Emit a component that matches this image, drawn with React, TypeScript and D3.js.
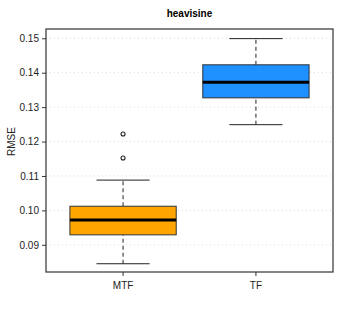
import React, { useRef, useEffect } from "react";
import * as d3 from "d3";

const categories = ["MTF", "TF"];
const colors = ["#FFA500", "#1E90FF"];
// [lower whisker, Q1, median, Q3, upper whisker]
const stats = [
  [0.0845, 0.0929, 0.0972, 0.1012, 0.1088],
  [0.1249, 0.1327, 0.1372, 0.1423, 0.1499],
];
const outliers = [[0.1222, 0.1152], []];
const yTicks = [0.09, 0.1, 0.11, 0.12, 0.13, 0.14, 0.15];

const App = () => {
  const svgRef = useRef<SVGSVGElement>(null);

  useEffect(() => {
    const width = 347;
    const height = 316;
    const m = { left: 46, right: 14, top: 29, bottom: 44 };
    const svg = d3.select(svgRef.current);
    svg.selectAll("*").remove();
    svg.attr("width", width).attr("height", height);
    const font = "Liberation Sans, Arial, sans-serif";

    const y = d3
      .scaleLinear()
      .domain([0.0821, 0.1527])
      .range([height - m.bottom, m.top]);
    const x = d3
      .scaleBand()
      .domain(categories)
      .range([m.left, width - m.right])
      .paddingInner(0.2)
      .paddingOuter(0.18);

    svg
      .append("text")
      .attr("x", (m.left + width - m.right) / 2)
      .attr("y", 17)
      .attr("text-anchor", "middle")
      .style("font-family", font)
      .style("font-weight", "bold")
      .style("font-size", "10px")
      .text("heavisine");

    // grid
    svg
      .append("g")
      .selectAll("line")
      .data(yTicks)
      .enter()
      .append("line")
      .attr("x1", m.left)
      .attr("x2", width - m.right)
      .attr("y1", (d) => y(d))
      .attr("y2", (d) => y(d))
      .attr("stroke", "#d8d8d8")
      .attr("stroke-dasharray", "1,3");

    // y axis
    const yAxis = svg
      .append("g")
      .attr("transform", `translate(${m.left},0)`)
      .call(
        d3
          .axisLeft(y)
          .tickValues(yTicks)
          .tickSize(4)
          .tickPadding(3)
          .tickFormat(d3.format(".2f"))
      );
    yAxis.select(".domain").remove();
    yAxis.selectAll("line").attr("stroke", "#333");
    yAxis
      .selectAll("text")
      .style("font-family", font)
      .style("font-size", "10px")
      .attr("fill", "#222");

    const xAxis = svg
      .append("g")
      .attr("transform", `translate(0,${height - m.bottom})`)
      .call(d3.axisBottom(x).tickSize(4).tickPadding(6));
    xAxis.select(".domain").remove();
    xAxis.selectAll("line").attr("stroke", "#333");
    xAxis
      .selectAll("text")
      .style("font-family", font)
      .style("font-size", "10px")
      .attr("fill", "#222");

    svg
      .append("text")
      .attr("transform", `translate(15,${y(0.12)}) rotate(-90)`)
      .attr("text-anchor", "middle")
      .style("font-family", font)
      .style("font-size", "10px")
      .attr("fill", "#222")
      .text("RMSE");

    const boxes = svg
      .append("g")
      .selectAll("g")
      .data(stats)
      .enter()
      .append("g");

    const bw = x.bandwidth();
    const cx = (i: number) => (x(categories[i]) as number) + bw / 2;

    // whiskers
    boxes
      .append("line")
      .attr("x1", (d, i) => cx(i))
      .attr("x2", (d, i) => cx(i))
      .attr("y1", (d) => y(d[0]))
      .attr("y2", (d) => y(d[1]))
      .attr("stroke", "#222")
      .attr("stroke-width", 1)
      .attr("stroke-dasharray", "4,3");
    boxes
      .append("line")
      .attr("x1", (d, i) => cx(i))
      .attr("x2", (d, i) => cx(i))
      .attr("y1", (d) => y(d[3]))
      .attr("y2", (d) => y(d[4]))
      .attr("stroke", "#222")
      .attr("stroke-width", 1)
      .attr("stroke-dasharray", "4,3");
    [0, 4].forEach((k) => {
      boxes
        .append("line")
        .attr("x1", (d, i) => cx(i) - bw / 4)
        .attr("x2", (d, i) => cx(i) + bw / 4)
        .attr("y1", (d) => y(d[k]))
        .attr("y2", (d) => y(d[k]))
        .attr("stroke", "#222")
        .attr("stroke-width", 1);
    });

    boxes
      .append("rect")
      .attr("x", (d, i) => x(categories[i]) as number)
      .attr("width", bw)
      .attr("y", (d) => y(d[3]))
      .attr("height", (d) => y(d[1]) - y(d[3]))
      .attr("fill", (d, i) => colors[i])
      .attr("stroke", "#333")
      .attr("stroke-width", 1);

    boxes
      .append("line")
      .attr("x1", (d, i) => x(categories[i]) as number)
      .attr("x2", (d, i) => (x(categories[i]) as number) + bw)
      .attr("y1", (d) => y(d[2]))
      .attr("y2", (d) => y(d[2]))
      .attr("stroke", "#000")
      .attr("stroke-width", 3);

    outliers.forEach((vals, i) => {
      svg
        .append("g")
        .selectAll("circle")
        .data(vals)
        .enter()
        .append("circle")
        .attr("cx", cx(i))
        .attr("cy", (d) => y(d))
        .attr("r", 2)
        .attr("fill", "none")
        .attr("stroke", "#222")
        .attr("stroke-width", 1.1);
    });

    // frame
    svg
      .append("rect")
      .attr("x", m.left)
      .attr("y", m.top)
      .attr("width", width - m.left - m.right)
      .attr("height", height - m.top - m.bottom)
      .attr("fill", "none")
      .attr("stroke", "#333")
      .attr("stroke-width", 1.2);
  }, []);

  return <svg ref={svgRef} style={{ position: "absolute", left: 0, top: 0 }}></svg>;
};

export default App;
